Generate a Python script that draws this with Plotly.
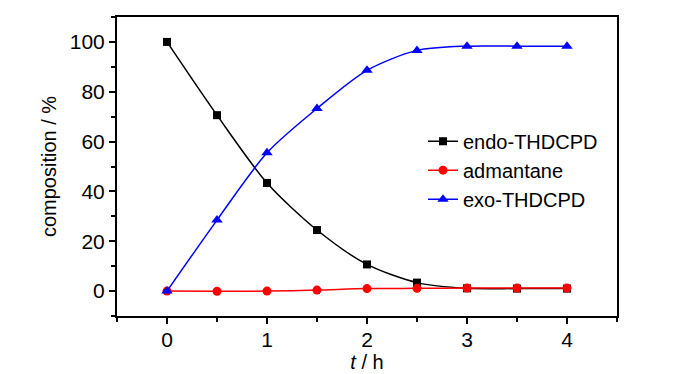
import plotly.graph_objects as go

t_h = [0, 0.5, 1, 1.5, 2, 2.5, 3, 3.5, 4]
endo = [100, 70.6, 43.4, 24.5, 10.7, 3.4, 1.1, 1.0, 1.0]
adm = [0, -0.1, 0, 0.4, 1.0, 1.1, 1.2, 1.2, 1.2]
exo = [0, 28.5, 55.5, 73.3, 88.6, 96.6, 98.3, 98.3, 98.3]
names = ["endo-THDCPD", "admantane", "exo-THDCPD"]

font = "Arial, Liberation Sans, sans-serif"
fig = go.Figure()
fig.add_trace(go.Scatter(x=t_h, y=endo, name=names[0], mode="lines+markers", legendgroup="a",
                         line=dict(color="black", width=1.5, shape="spline", smoothing=0.8),
                         marker=dict(symbol="square", size=8, color="black")))
fig.add_trace(go.Scatter(x=t_h, y=adm, name=names[1], mode="lines+markers", legendgroup="b",
                         line=dict(color="red", width=1.5, shape="spline", smoothing=0.8),
                         marker=dict(symbol="circle", size=9, color="red")))
fig.add_trace(go.Scatter(x=t_h, y=exo, name=names[2], mode="lines+markers", legendgroup="c",
                         line=dict(color="blue", width=1.5, shape="spline", smoothing=0.8),
                         marker=dict(symbol="triangle-up", size=10, color="blue")))

axis_common = dict(showline=True, linecolor="black", linewidth=2, mirror=True,
                   ticks="outside", tickcolor="black", tickwidth=1.5, ticklen=6,
                   showgrid=False, zeroline=False, automargin=False,
                   tickfont=dict(family=font, size=21, color="black"))
fig.update_xaxes(range=[-0.5, 4.5], tickvals=[0, 1, 2, 3, 4], ticklabelstandoff=-2,
                 minor=dict(tickvals=[-0.5, 0.5, 1.5, 2.5, 3.5, 4.5], ticks="outside", ticklen=4, tickwidth=1.5, tickcolor="black"),
                 title=dict(text="<i>t</i> / h", font=dict(family=font, size=20, color="black"), standoff=2),
                 **axis_common)
fig.update_yaxes(range=[-10, 110], tickvals=[0, 20, 40, 60, 80, 100],
                 minor=dict(tickvals=[-10, 10, 30, 50, 70, 90, 110], ticks="outside", ticklen=4, tickwidth=1.5, tickcolor="black"),
                 title=dict(text="composition / %", font=dict(family=font, size=20, color="black"), standoff=8),
                 **axis_common)
fig.update_layout(width=700, height=374, margin=dict(l=117, r=83, t=17, b=58),
                  plot_bgcolor="white", paper_bgcolor="white",
                  legend=dict(x=0.612, y=0.65, xanchor="left", yanchor="top",
                              font=dict(family=font, size=20, color="black"),
                              bgcolor="rgba(0,0,0,0)", tracegroupgap=0))
fig.write_html("out.html", config={"displayModeBar": False},
               post_script="document.body.style.margin='0';document.body.style.overflow='hidden';")
